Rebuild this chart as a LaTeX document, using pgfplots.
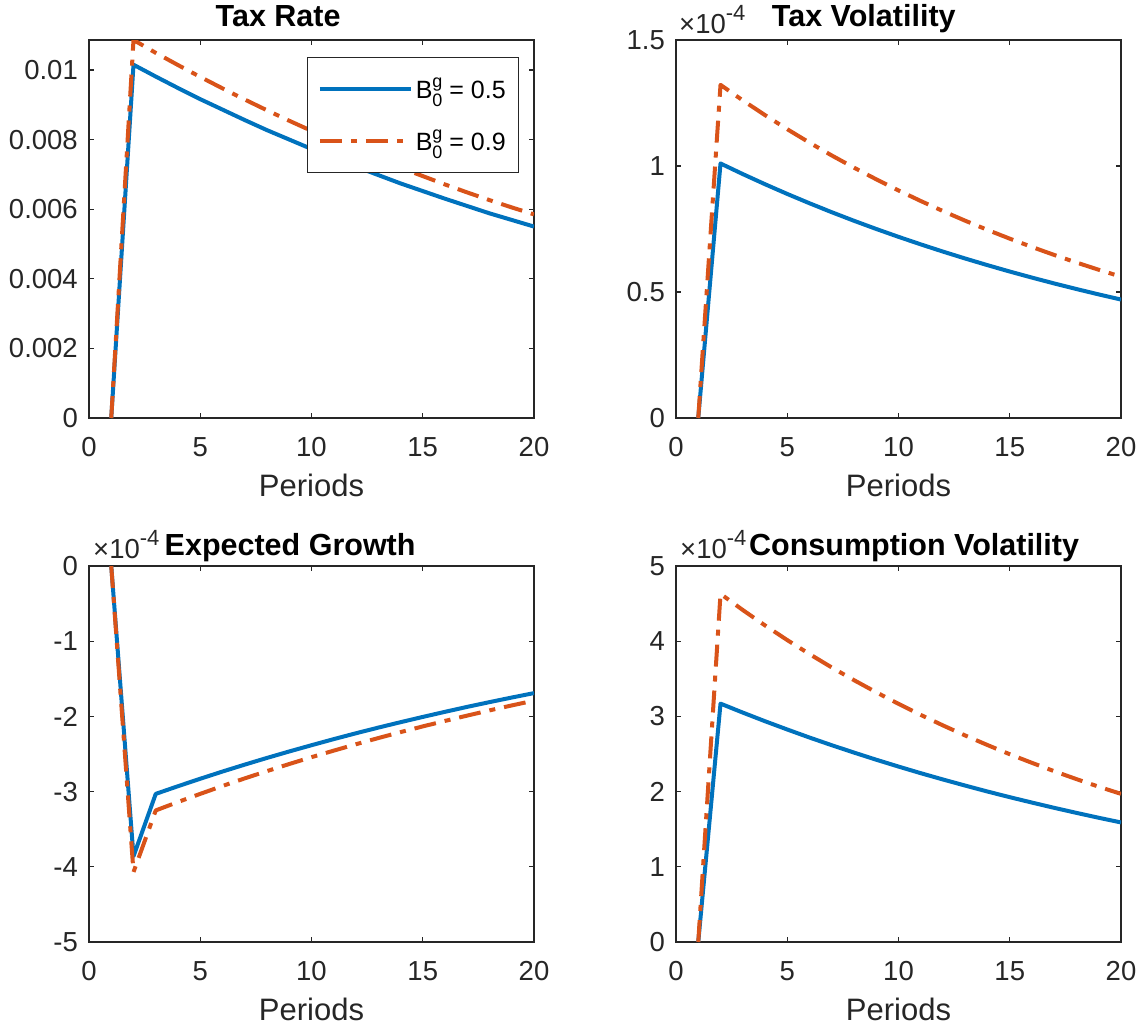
\documentclass[border=0pt]{standalone}
\usepackage{fontspec}
\setmainfont{Liberation Sans}
\usepackage{pgfplots}
\pgfplotsset{compat=1.18}
\usepackage{pgfplotstable}

\definecolor{axgray}{RGB}{38,38,38}
\definecolor{mblue}{RGB}{0,114,189}
\definecolor{morange}{RGB}{217,83,25}

\newcommand\ticksize{\fontsize{27.5}{31}\selectfont}
\newcommand\labsize{\fontsize{31}{35}\selectfont}
\newcommand\titlesize{\fontsize{30.5}{34}\selectfont\bfseries}
\newcommand\legsize{\fontsize{25}{29}\selectfont}
\newcommand\Bg{B\makebox[0pt][l]{\raisebox{0.45em}{\fontsize{18}{18}\selectfont g}}\raisebox{-0.32em}{\fontsize{18}{18}\selectfont 0}}
\newcommand\expo{×10\raisebox{0.45em}{\fontsize{22}{22}\selectfont -4}}

% t, B0 = 0.5 (a), B0 = 0.9 (b)
\pgfplotstableread{
t a b
1 0 0
2 0.01015 0.01086
3 0.00981 0.01049
4 0.00948 0.01014
5 0.00916 0.00980
6 0.00886 0.00947
7 0.00856 0.00915
8 0.00827 0.00884
9 0.00800 0.00854
10 0.00773 0.00825
11 0.00747 0.00797
12 0.00722 0.00770
13 0.00698 0.00744
14 0.00674 0.00719
15 0.00652 0.00695
16 0.00630 0.00671
17 0.00609 0.00648
18 0.00588 0.00626
19 0.00569 0.00605
20 0.00550 0.00585
}\taxrate

% tax volatility, in units of 1e-4
\pgfplotstableread{
t a b
1 0 0
2 1.010 1.322
3 0.968 1.2605
4 0.9277 1.2019
5 0.8891 1.1460
6 0.8521 1.0927
7 0.8166 1.0418
8 0.7826 0.9934
9 0.7501 0.9472
10 0.7189 0.9031
11 0.6890 0.8611
12 0.6603 0.8210
13 0.6328 0.7828
14 0.6065 0.7464
15 0.5812 0.7117
16 0.5571 0.6786
17 0.5339 0.6470
18 0.5117 0.6169
19 0.4904 0.5882
20 0.4700 0.5608
}\taxvol

% expected growth, in units of 1e-4
\pgfplotstableread{
t a b
1 0 0
2 -3.86 -4.07
3 -3.030 -3.250
4 -2.928 -3.138
5 -2.829 -3.030
6 -2.733 -2.925
7 -2.641 -2.824
8 -2.552 -2.727
9 -2.466 -2.633
10 -2.383 -2.542
11 -2.302 -2.455
12 -2.224 -2.370
13 -2.149 -2.288
14 -2.077 -2.209
15 -2.007 -2.133
16 -1.939 -2.060
17 -1.873 -1.989
18 -1.810 -1.920
19 -1.749 -1.854
20 -1.690 -1.790
}\expgrowth

% consumption volatility, in units of 1e-4
\pgfplotstableread{
t a b
1 0 0
2 3.170 4.630
3 3.051 4.415
4 2.936 4.210
5 2.826 4.015
6 2.719 3.829
7 2.617 3.651
8 2.519 3.482
9 2.424 3.321
10 2.333 3.167
11 2.245 3.020
12 2.161 2.880
13 2.080 2.746
14 2.001 2.619
15 1.926 2.497
16 1.854 2.382
17 1.784 2.271
18 1.717 2.166
19 1.652 2.065
20 1.590 1.970
}\consvol

\pgfplotsset{
  panel/.style={
    scale only axis, width=445pt, height=378pt, anchor=north west,
    xmin=0, xmax=20, xtick={0,5,10,15,20},
    axis line style={draw=axgray, line width=1.2pt},
    every tick/.style={draw=axgray, line width=1.2pt},
    major tick length=5pt,
    tick label style={font=\ticksize, text=axgray, inner sep=0pt},
    xticklabel style={anchor=base, yshift=-38pt},
    yticklabel style={anchor=east, xshift=-11pt},
    /pgf/number format/assume math mode=true,
    scaled y ticks=false,
    xlabel={Periods},
    xlabel style={font=\labsize, text=axgray, at={(rel axis cs:0.5,0)}, anchor=base, yshift=-78pt},
    title style={font=\titlesize, text=black, anchor=base, yshift=5pt},
    clip mode=individual,
  },
  sA/.style={mblue, line width=4pt, line join=round},
  sB/.style={morange, line width=4pt, line join=round,
    dash pattern=on 22pt off 9pt on 6pt off 9pt},
}

\begin{document}
\begin{tikzpicture}
\useasboundingbox (0,0) rectangle (1142pt,-1028pt);

% Tax rate
\begin{axis}[panel, at={(89pt,-40pt)},
  ymin=0, ymax=0.01086, ytick={0,0.002,0.004,0.006,0.008,0.01},
  yticklabel style={/pgf/number format/fixed, /pgf/number format/precision=3},
  title={Tax Rate}, title style={at={(rel axis cs:0.425,1)}, yshift=3pt},
  legend style={at={(rel axis cs:0.967,0.955)}, anchor=north east,
    draw=axgray, line width=1.2pt, font=\legsize, text=black, fill=white,
    inner xsep=10pt, inner ysep=17pt, row sep=24pt,
    nodes={inner sep=3pt}},
  legend cell align=left,
  legend image code/.code={\draw[#1] (0pt,0pt) -- (91pt,0pt);},
]
\addplot[sA] table[x=t, y=a] {\taxrate};
\addlegendentry{\Bg\ = 0.5\hspace{7pt}}
\addplot[sB] table[x=t, y=b] {\taxrate};
\addlegendentry{\Bg\ = 0.9\hspace{7pt}}
\end{axis}

% Tax volatility
\begin{axis}[panel, at={(676pt,-40pt)},
  ymin=0, ymax=1.5, ytick={0,0.5,1,1.5},
  title={Tax Volatility}, title style={at={(rel axis cs:0.422,1)}, yshift=3pt},
]
\addplot[sA] table[x=t, y=a] {\taxvol};
\addplot[sB] table[x=t, y=b] {\taxvol};
\node[anchor=base west, font=\ticksize, text=axgray, inner sep=0pt, xshift=3pt, yshift=7pt] at (rel axis cs:0,1) {\expo};
\end{axis}

% Expected growth
\begin{axis}[panel, at={(89pt,-566pt)}, height=376pt,
  ymin=-5, ymax=0, ytick={-5,-4,-3,-2,-1,0},
  title={Expected Growth}, title style={at={(rel axis cs:0.452,1)}},
]
\addplot[sA] table[x=t, y=a] {\expgrowth};
\addplot[sB] table[x=t, y=b] {\expgrowth};
\node[anchor=base west, font=\ticksize, text=axgray, inner sep=0pt, xshift=4pt, yshift=8pt] at (rel axis cs:0,1) {\expo};
\end{axis}

% Consumption volatility
\begin{axis}[panel, at={(676pt,-566pt)}, height=376pt,
  ymin=0, ymax=5, ytick={0,1,2,3,4,5},
  title={Consumption Volatility}, title style={at={(rel axis cs:0.535,1)}},
]
\addplot[sA] table[x=t, y=a] {\consvol};
\addplot[sB] table[x=t, y=b] {\consvol};
\node[anchor=base west, font=\ticksize, text=axgray, inner sep=0pt, xshift=4pt, yshift=8pt] at (rel axis cs:0,1) {\expo};
\end{axis}
\end{tikzpicture}
\end{document}
